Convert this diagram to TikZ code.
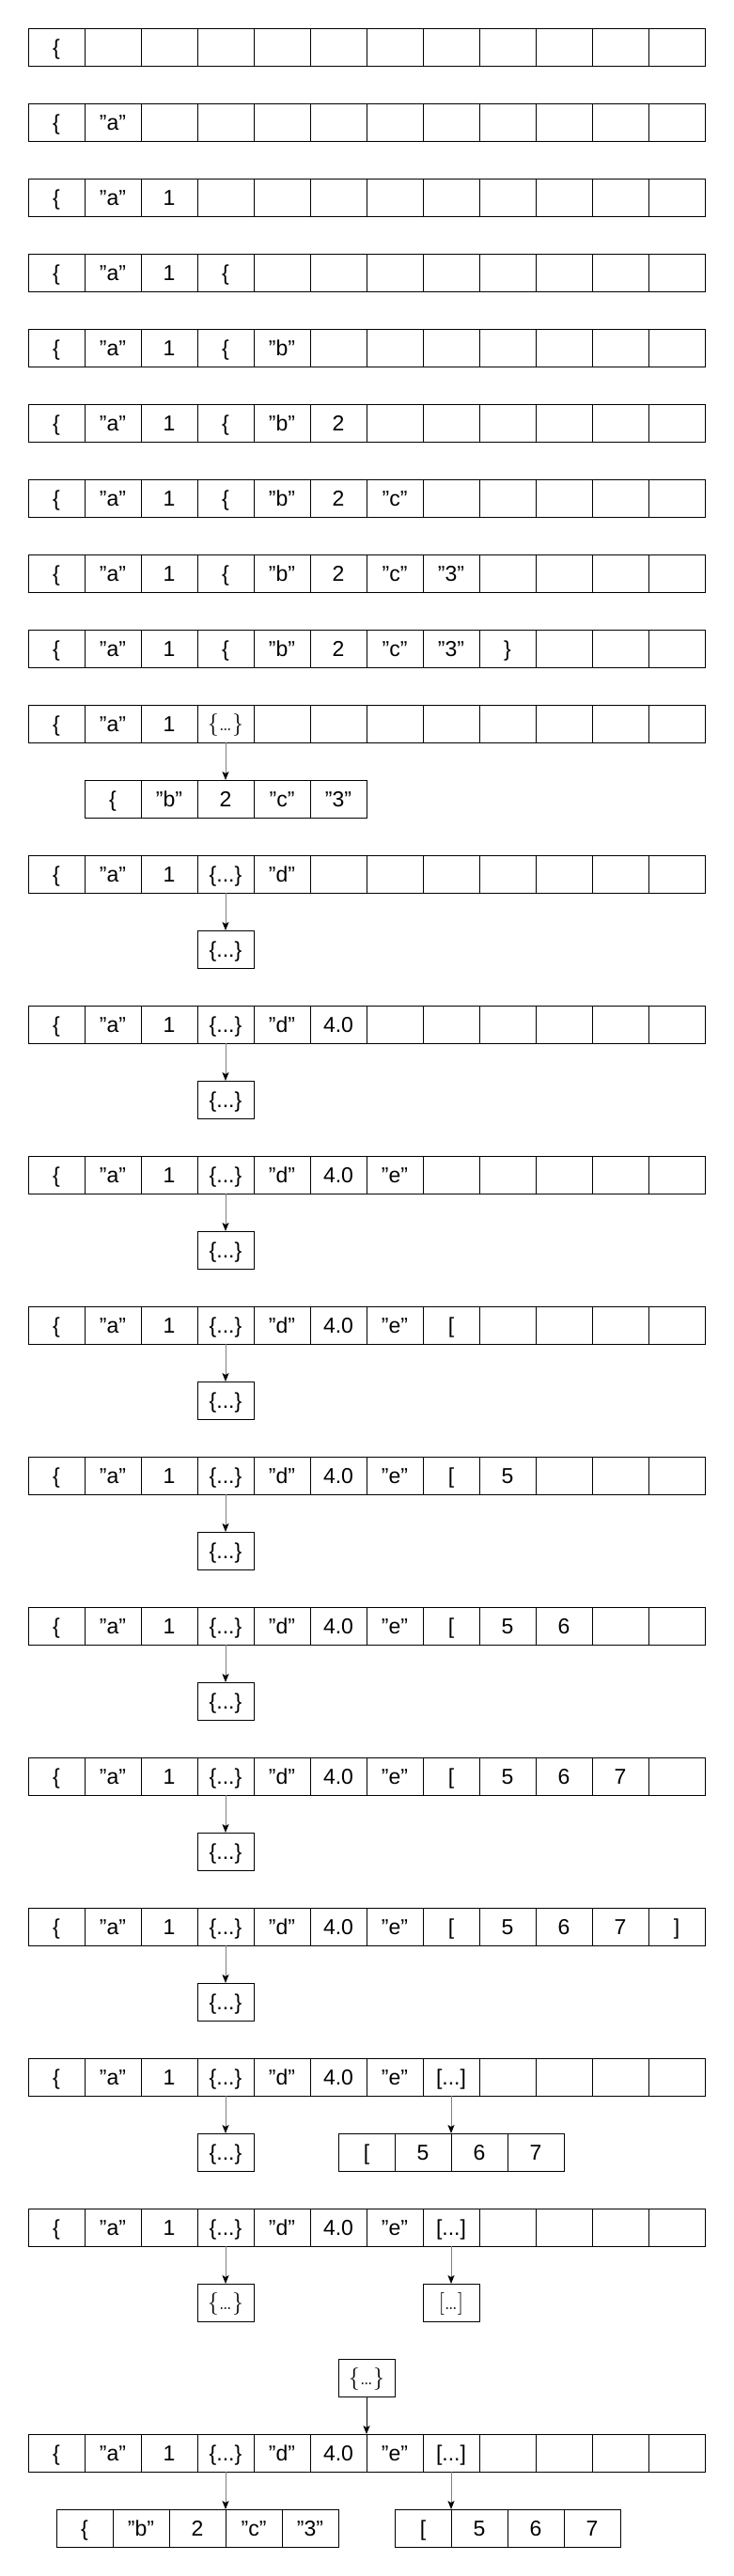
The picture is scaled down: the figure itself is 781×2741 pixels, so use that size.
\documentclass[tikz,border=0pt]{standalone}
\usepackage{fontspec}
\setsansfont{Liberation Sans}
\usetikzlibrary{arrows.meta}
\tikzset{
  cell/.style={draw, line width=1pt, minimum width=60pt, minimum height=40pt, inner sep=0pt, outer sep=0pt},
  txt/.style={inner sep=0pt, text height=16.5pt, text depth=0pt, font=\fontsize{23}{26}\sffamily},
  arr/.style={draw=gray, line width=1pt, -{Stealth[black,length=9pt,width=7pt,inset=2pt]}},
  arrk/.style={draw=black, line width=1pt, -{Stealth[black,length=9pt,width=7pt,inset=2pt]}},
}
\newcommand\OBJ{\{...\}}
\newcommand\ARR{[...]}
\newcommand\MOBJ{{\fontsize{24}{26}\rmfamily\raisebox{0.5pt}{\{\ldots\}}}}
\newcommand\MARR{{\fontsize{24}{26}\rmfamily\raisebox{0.5pt}{[\ldots]}}}
% main row of 12 cells: name, y top, contents
\newcommand\jrow[3]{%
  \foreach \i in {1,...,12}{\node[cell] (#1-\i) at (60*\i,#2+20) {};}
  \foreach \t [count=\i] in {#3}{\node[txt] (#1-t\i) at (#1-\i) {\t};}
}
% sub row: name, x left, y top, contents
\newcommand\jsub[4]{%
  \foreach \t [count=\i] in {#4}{%
    \node[cell] (#1-\i) at (#2+60*\i-30,#3+20) {};
    \node[txt] (#1-t\i) at (#1-\i) {\t};}
}
\begin{document}
\begin{tikzpicture}[x=1pt,y=-1pt]
\useasboundingbox (0,0) rectangle (781,2741);
\jrow{r1}{30}{\{}
\jrow{r2}{110}{\{,"a"}
\jrow{r3}{190}{\{,"a",1}
\jrow{r4}{270}{\{,"a",1,\{}
\jrow{r5}{350}{\{,"a",1,\{,"b"}
\jrow{r6}{430}{\{,"a",1,\{,"b",2}
\jrow{r7}{510}{\{,"a",1,\{,"b",2,"c"}
\jrow{r8}{590}{\{,"a",1,\{,"b",2,"c","3"}
\jrow{r9}{670}{\{,"a",1,\{,"b",2,"c","3",\}}
% row 10
\jrow{r10}{750}{\{,"a",1,\MOBJ}
\jsub{s10}{90}{830}{\{,"b",2,"c","3"}
\draw[arr] (r10-4.south) -- (s10-3.north);
% rows 11-18
\jrow{r11}{910}{\{,"a",1,\OBJ,"d"}
\jsub{s11}{210}{990}{\OBJ}
\draw[arr] (r11-4.south) -- (s11-1.north);
\jrow{r12}{1070}{\{,"a",1,\OBJ,"d",4.0}
\jsub{s12}{210}{1150}{\OBJ}
\draw[arr] (r12-4.south) -- (s12-1.north);
\jrow{r13}{1230}{\{,"a",1,\OBJ,"d",4.0,"e"}
\jsub{s13}{210}{1310}{\OBJ}
\draw[arr] (r13-4.south) -- (s13-1.north);
\jrow{r14}{1390}{\{,"a",1,\OBJ,"d",4.0,"e",[}
\jsub{s14}{210}{1470}{\OBJ}
\draw[arr] (r14-4.south) -- (s14-1.north);
\jrow{r15}{1550}{\{,"a",1,\OBJ,"d",4.0,"e",[,5}
\jsub{s15}{210}{1630}{\OBJ}
\draw[arr] (r15-4.south) -- (s15-1.north);
\jrow{r16}{1710}{\{,"a",1,\OBJ,"d",4.0,"e",[,5,6}
\jsub{s16}{210}{1790}{\OBJ}
\draw[arr] (r16-4.south) -- (s16-1.north);
\jrow{r17}{1870}{\{,"a",1,\OBJ,"d",4.0,"e",[,5,6,7}
\jsub{s17}{210}{1950}{\OBJ}
\draw[arr] (r17-4.south) -- (s17-1.north);
\jrow{r18}{2030}{\{,"a",1,\OBJ,"d",4.0,"e",[,5,6,7,]}
\jsub{s18}{210}{2110}{\OBJ}
\draw[arr] (r18-4.south) -- (s18-1.north);
% row 19
\jrow{r19}{2190}{\{,"a",1,\OBJ,"d",4.0,"e",\ARR}
\jsub{s19a}{210}{2270}{\OBJ}
\jsub{s19b}{360}{2270}{[,5,6,7}
\draw[arr] (r19-4.south) -- (s19a-1.north);
\draw[arr] (r19-8.south) -- (s19b-2.north east);
% row 20
\jrow{r20}{2350}{\{,"a",1,\OBJ,"d",4.0,"e",\ARR}
\jsub{s20a}{210}{2430}{\MOBJ}
\jsub{s20b}{450}{2430}{\MARR}
\draw[arr] (r20-4.south) -- (s20a-1.north);
\draw[arr] (r20-8.south) -- (s20b-1.north);
% row 21
\jsub{t21}{360}{2510}{\MOBJ}
\jrow{r21}{2590}{\{,"a",1,\OBJ,"d",4.0,"e",\ARR}
\draw[arrk] (t21-1.south) -- (r21-6.north east);
\jsub{s21a}{60}{2670}{\{,"b",2,"c","3"}
\jsub{s21b}{420}{2670}{[,5,6,7}
\draw[arr] (r21-4.south) -- (s21a-3.north east);
\draw[arr] (r21-8.south) -- (s21b-1.north east);
\end{tikzpicture}
\end{document}
